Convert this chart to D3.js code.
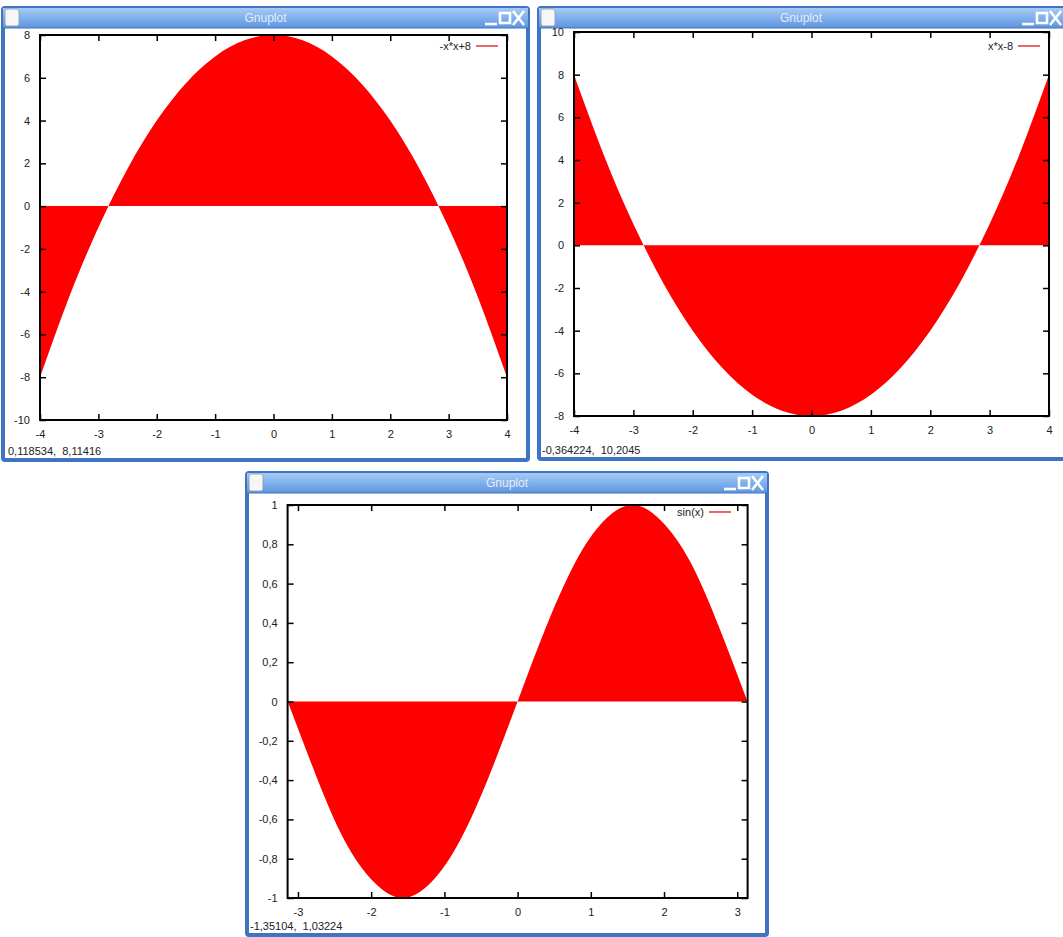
<!DOCTYPE html>
<html><head><meta charset="utf-8">
<script src="https://cdn.jsdelivr.net/npm/d3@7"></script>
<style>
body{margin:0;background:#fff;}
svg{display:block;}
text{font-family:"Liberation Sans","DejaVu Sans",sans-serif;}
</style></head>
<body>
<svg id="c" width="1063" height="937"></svg>
<script>
// ---------- data ----------
const xs1 = [-4,-3.5,-3,-2.5,-2,-1.5,-1,-0.5,0,0.5,1,1.5,2,2.5,3,3.5,4];
const ys1 = [-8,-4.25,-1,1.75,4,5.75,7,7.75,8,7.75,7,5.75,4,1.75,-1,-4.25,-8];
const xs2 = [-4,-3.5,-3,-2.5,-2,-1.5,-1,-0.5,0,0.5,1,1.5,2,2.5,3,3.5,4];
const ys2 = [8,4.25,1,-1.75,-4,-5.75,-7,-7.75,-8,-7.75,-7,-5.75,-4,-1.75,1,4.25,8];
const xs3 = [-3.14,-2.75,-2.36,-1.96,-1.57,-1.18,-0.79,-0.39,0,0.39,0.79,1.18,1.57,1.96,2.36,2.75,3.14];
const ys3 = [0,-0.38,-0.71,-0.92,-1,-0.92,-0.71,-0.38,0,0.38,0.71,0.92,1,0.92,0.71,0.38,0];
const xTicks1 = [-4,-3,-2,-1,0,1,2,3,4];
const yTicks1 = [-10,-8,-6,-4,-2,0,2,4,6,8];
const xTicks2 = [-4,-3,-2,-1,0,1,2,3,4];
const yTicks2 = [-8,-6,-4,-2,0,2,4,6,8,10];
const xTicks3 = [-3,-2,-1,0,1,2,3];
const yTicks3 = [-1,-0.8,-0.6,-0.4,-0.2,0,0.2,0.4,0.6,0.8,1];
const legends = ["-x*x+8","x*x-8","sin(x)"];
const statusTexts = ["0,118534,  8,11416","-0,364224,  10,2045","-1,35104,  1,03224"];
const windowTitle = "Gnuplot";

// ---------- layout ----------
const svg = d3.select("#c");
const defs = svg.append("defs");
const grad = defs.append("linearGradient").attr("id","tb").attr("x1",0).attr("y1",0).attr("x2",0).attr("y2",1);
grad.append("stop").attr("offset","0%").attr("stop-color","#a8cbf4");
grad.append("stop").attr("offset","50%").attr("stop-color","#80b0ec");
grad.append("stop").attr("offset","100%").attr("stop-color","#5f93dc");

const fmtComma = d => {
  if (Math.abs(d - Math.round(d)) < 1e-9) return String(Math.round(d));
  return (d < 0 ? "-" : "") + Math.abs(d).toFixed(1).replace(".", ",");
};

const windows = [
  {wx:3, wy:8, ww:525, wh:452, plot:{l:40,t:35,r:507,b:420}, xd:[-4,4], yd:[-10,8],
   xs:xs1, ys:ys1, xt:xTicks1, yt:yTicks1, fmt:d=>String(d), leg:legends[0], legX:471, legY:46, status:statusTexts[0]},
  {wx:539, wy:8, ww:528, wh:451, plot:{l:574,t:32,r:1049,b:416}, xd:[-4,4], yd:[-8,10],
   xs:xs2, ys:ys2, xt:xTicks2, yt:yTicks2, fmt:d=>String(d), leg:legends[1], legX:1013, legY:46, status:statusTexts[1]},
  {wx:247, wy:473, ww:520, wh:462, plot:{l:287.6,t:505,r:747.6,b:898}, xd:[-Math.PI,Math.PI], yd:[-1,1],
   xs:xs3, ys:ys3, xt:xTicks3, yt:yTicks3, fmt:fmtComma, leg:legends[2], legX:704, legY:512, status:statusTexts[2]}
];

windows.forEach((w, i) => {
  const g = svg.append("g");
  g.append("rect").attr("x",w.wx).attr("y",w.wy).attr("width",w.ww).attr("height",w.wh)
    .attr("fill","#fff").attr("stroke","#3f74c2").attr("stroke-width",4).attr("rx",2);
  g.append("rect").attr("x",w.wx).attr("y",w.wy).attr("width",w.ww).attr("height",20)
    .attr("fill","url(#tb)");
  g.append("line").attr("x1",w.wx).attr("x2",w.wx+w.ww).attr("y1",w.wy+20).attr("y2",w.wy+20)
    .attr("stroke","#3f74c2").attr("stroke-width",1);
  g.append("rect").attr("x",w.wx+2).attr("y",w.wy+1).attr("width",14).attr("height",17).attr("rx",2)
    .attr("fill","#f6f6f6").attr("stroke","#8a97aa").attr("stroke-width",0.8);
  g.append("text").attr("x",w.wx+w.ww/2 + (i===1?-2:0)).attr("y",w.wy+14).attr("text-anchor","middle")
    .attr("font-size",12).attr("fill","#e4ecf8").text(windowTitle);
  const bg = g.append("g").attr("fill","none").attr("stroke","#fff").attr("stroke-width",2.6);
  const rx = (i===1) ? w.wx+w.ww-4 : w.wx+w.ww-2;
  bg.append("line").attr("x1",rx-41).attr("x2",rx-29).attr("y1",w.wy+16).attr("y2",w.wy+16);
  bg.append("rect").attr("x",rx-26).attr("y",w.wy+5).attr("width",10).attr("height",10);
  bg.append("line").attr("x1",rx-13).attr("x2",rx-2).attr("y1",w.wy+3).attr("y2",w.wy+17);
  bg.append("line").attr("x1",rx-13).attr("x2",rx-2).attr("y1",w.wy+17).attr("y2",w.wy+3);

  const p = w.plot;
  const x = d3.scaleLinear().domain(w.xd).range([p.l,p.r]);
  const y = d3.scaleLinear().domain(w.yd).range([p.b,p.t]);
  const data = w.xs.map((xv,k)=>({x:xv,y:w.ys[k]}));

  const area = d3.area().x(d=>x(d.x)).y0(y(0)).y1(d=>y(d.y)).curve(d3.curveNatural);
  g.append("path").datum(data).attr("d",area).attr("fill","#ff0000").attr("stroke","none");

  const fs = 11;
  const ax = g.append("g").attr("transform",`translate(0,${p.b})`)
    .call(d3.axisBottom(x).tickValues(w.xt).tickFormat(d=>String(d)).tickSizeInner(-6).tickSizeOuter(0).tickPadding(10));
  const ay = g.append("g").attr("transform",`translate(${p.l},0)`)
    .call(d3.axisLeft(y).tickValues(w.yt).tickFormat(w.fmt).tickSizeInner(-6).tickSizeOuter(0).tickPadding(10));
  const at = g.append("g").attr("transform",`translate(0,${p.t})`)
    .call(d3.axisTop(x).tickValues(w.xt).tickFormat("").tickSizeInner(-6).tickSizeOuter(0));
  const ar = g.append("g").attr("transform",`translate(${p.r},0)`)
    .call(d3.axisRight(y).tickValues(w.yt).tickFormat("").tickSizeInner(-6).tickSizeOuter(0));
  [ax,ay,at,ar].forEach(a=>{
    a.select(".domain").remove();
    a.selectAll("line").attr("stroke","#000").attr("stroke-width",1.5);
    a.selectAll("text").attr("font-size",fs).attr("fill","#222")
      .attr("font-family","'Liberation Sans','DejaVu Sans',sans-serif");
  });
  g.append("rect").attr("x",p.l).attr("y",p.t).attr("width",p.r-p.l).attr("height",p.b-p.t)
    .attr("fill","none").attr("stroke","#000").attr("stroke-width",2);

  g.append("text").attr("x",w.legX).attr("y",w.legY+4).attr("text-anchor","end")
    .attr("font-size",fs).attr("fill","#222").text(w.leg);
  g.append("line").attr("x1",w.legX+5).attr("x2",w.legX+27).attr("y1",w.legY).attr("y2",w.legY)
    .attr("stroke","#e00000").attr("stroke-width",1.2);

  g.append("text").attr("x",w.wx+(i===0?5:3)).attr("y",w.wy+w.wh-5)
    .attr("font-size",fs).attr("fill","#222").style("white-space","pre").text(w.status);
});
</script>
</body></html>
